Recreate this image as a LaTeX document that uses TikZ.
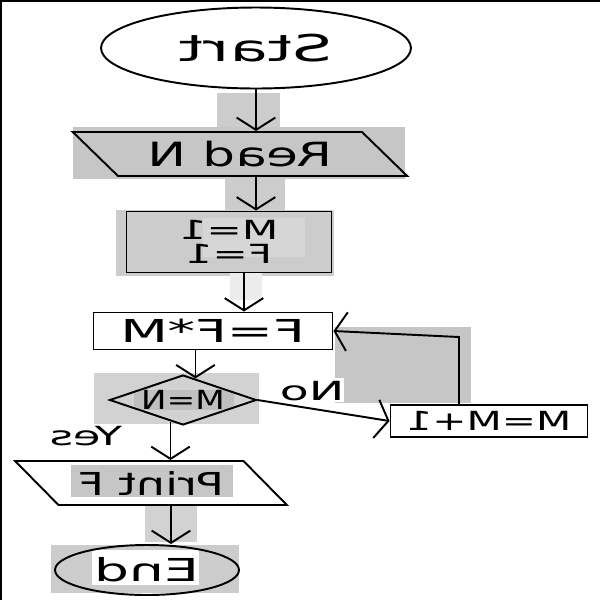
\documentclass[tikz,border=0pt]{standalone}
\usepackage{fontspec}
\setmainfont{DejaVu Sans}
\usetikzlibrary{arrows.meta,shapes.geometric,positioning}
\newcommand{\mirror}[2][1.6]{\scalebox{-#1}[1]{#2}}

\begin{document}
\begin{tikzpicture}[x=0.02cm,y=-0.02cm,line width=1.1pt,
    arr/.style={-{Straight Barb[length=7pt,width=22pt,line width=1.1pt]}},
    terminal/.style={ellipse,draw,inner sep=0},
    iobox/.style={trapezium,draw,trapezium stretches=true,inner sep=0},
    procbox/.style={rectangle,draw,inner sep=0},
    decision/.style={diamond,draw,inner sep=0,aspect=2.9}]
    \useasboundingbox (0,0) rectangle (600,600);
    % grey patches laid over the scan
    \foreach \xa/\ya/\xb/\yb/\c in {217/93/280/131/gray!40, 73/127/405/179/gray!45,
        225/178/285/215/gray!40, 116/210/334/276/gray!40, 203/218/305/257/gray!32,
        230/273/262/300/gray!15, 335/327/471/403/gray!45, 335/378/344/402/white,
        94/373/259/424/gray!35, 134/390/234/410/gray!50, 71/465/233/497/gray!45,
        145/505/197/542/gray!35, 51/545/239/593/gray!40, 92/550/199/585/white}
        \fill[\c] (\xa,\ya) rectangle (\xb,\yb);
    \draw[line width=1.5pt] (1,600) -- (1,1) -- (600,1);

    \node[terminal,minimum width=6.2cm,minimum height=1.62cm,font=\fontsize{21}{24}\selectfont] (start) at (256,48) {\mirror[1.7]{Start}};
    \node[iobox,trapezium left angle=143,trapezium right angle=37,minimum width=6.7cm,minimum height=0.88cm,font=\fontsize{19}{22}\selectfont] (read) at (240,154) {\mirror[1.55]{Read N}};
    \node[procbox,minimum width=4.1cm,minimum height=1.22cm,font=\fontsize{15}{13}\selectfont] (init) at (229,242) {\mirror{\shortstack{M=1\\F=1}}};
    \node[procbox,minimum width=4.78cm,minimum height=0.74cm,font=\fontsize{18}{22}\selectfont] (calc) at (213,331) {\mirror[1.75]{F=F*M}};
    \node[decision,minimum width=2.94cm,minimum height=1cm,font=\fontsize{15}{18}\selectfont] (test) at (183,400) {\mirror[1.3]{M=N}};
    \node[procbox,minimum width=3.94cm,minimum height=0.64cm,font=\fontsize{15}{18}\selectfont] (inc) at (489,421) {\mirror[1.55]{M=M+1}};
    \node[iobox,trapezium left angle=145,trapezium right angle=35,minimum width=5.44cm,minimum height=0.88cm,font=\fontsize{18}{22}\selectfont] (print) at (151,483) {\mirror[1.45]{Print F}};
    \node[terminal,minimum width=3.68cm,minimum height=1cm,font=\fontsize{18}{22}\selectfont] (end) at (147,570) {\mirror[1.75]{End}};
    \node[font=\fontsize{15}{18}\selectfont] (no) at (312,391) {\mirror[1.8]{No}};
    \node[font=\fontsize{15}{18}\selectfont] (yes) at (86,436) {\mirror[1.7]{Yes}};
    \coordinate (loop) at (459,337);

    \draw[arr] (start.south) -- (start.south |- read.north);
    \draw[arr] (read.south -| start) -- (init.north -| start);
    \draw[arr] ([xshift=.3cm]init.south) -- ([xshift=.3cm]init.south |- calc.north);
    \draw[arr] (calc.south -| test.60) -- (test.60);
    \draw[arr] (test.east) -- (inc.west);
    \draw[arr] (test.-120) -- (test.-120 |- print.north);
    \draw[arr] (inc.north -| loop) -- (loop) -- (calc.east);
    \draw[arr] ([xshift=.4cm]print.south) -- ([xshift=.4cm]print.south |- end.north);
\end{tikzpicture}
\end{document}
